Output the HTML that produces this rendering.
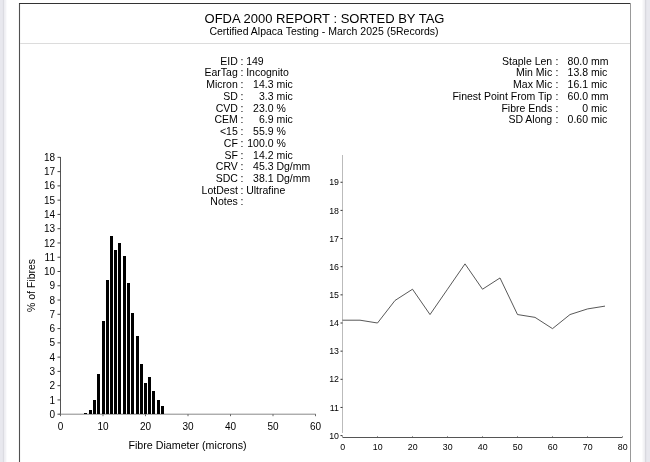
<!DOCTYPE html>
<html><head><meta charset="utf-8"><style>
html,body{margin:0;padding:0;background:#fff;width:650px;height:462px;overflow:hidden}
svg{display:block;filter:blur(0.4px);font-family:"Liberation Sans", sans-serif}
</style></head><body>
<svg width="650" height="462" viewBox="0 0 650 462" style='font-family:"Liberation Sans", sans-serif'>
<rect x="0" y="0" width="1" height="462" fill="#e8e8ee"/>
<rect x="1" y="0" width="1" height="462" fill="#e8e8ee"/>
<rect x="2" y="0" width="1" height="462" fill="#e6e6ec"/>
<rect x="3" y="0" width="1" height="462" fill="#dcdce2"/>
<rect x="4" y="0" width="1" height="462" fill="#eeeef2"/>
<rect x="5" y="0" width="1" height="462" fill="#f2f2f5"/>
<rect x="6" y="0" width="1" height="462" fill="#fafafc"/>
<rect x="642" y="0" width="1" height="462" fill="#fafafb"/>
<rect x="643" y="0" width="1" height="462" fill="#f4f4f6"/>
<rect x="644" y="0" width="1" height="462" fill="#efeff2"/>
<rect x="645" y="0" width="1" height="462" fill="#d9d9df"/>
<rect x="646" y="0" width="1" height="462" fill="#e4e4ea"/>
<rect x="647" y="0" width="1" height="462" fill="#e8e8ee"/>
<rect x="648" y="0" width="1" height="462" fill="#e8e8ee"/>
<rect x="649" y="0" width="1" height="462" fill="#e8e8ee"/>
<line x1="19.5" y1="3" x2="19.5" y2="462" stroke="#505050" stroke-width="1.1"/>
<line x1="19" y1="3.5" x2="631" y2="3.5" stroke="#333" stroke-width="1.2"/>
<line x1="630.5" y1="3" x2="630.5" y2="462" stroke="#999" stroke-width="1"/>
<line x1="20" y1="43.5" x2="630" y2="43.5" stroke="#dcdcdc" stroke-width="1"/>
<text x="324.5" y="22.7" font-size="13" text-anchor="middle" fill="#000" >OFDA 2000 REPORT : SORTED BY TAG</text>
<text x="324" y="35.2" font-size="10.5" text-anchor="middle" fill="#000" >Certified Alpaca Testing - March 2025 (5Records)</text>
<text x="237.8" y="64.6" font-size="10.5" text-anchor="end" fill="#000" >EID</text>
<text x="242" y="64.6" font-size="10.5" text-anchor="middle" fill="#000" >:</text>
<text x="246.2" y="64.6" font-size="10.5" text-anchor="start" fill="#000" >149</text>
<text x="237.8" y="76.33999999999999" font-size="10.5" text-anchor="end" fill="#000" >EarTag</text>
<text x="242" y="76.33999999999999" font-size="10.5" text-anchor="middle" fill="#000" >:</text>
<text x="246.2" y="76.33999999999999" font-size="10.5" text-anchor="start" fill="#000" >Incognito</text>
<text x="237.8" y="88.08" font-size="10.5" text-anchor="end" fill="#000" >Micron</text>
<text x="242" y="88.08" font-size="10.5" text-anchor="middle" fill="#000" >:</text>
<text x="273.5" y="88.08" font-size="10.5" text-anchor="end" fill="#000" >14.3</text>
<text x="276.4" y="88.08" font-size="10.5" text-anchor="start" fill="#000" >mic</text>
<text x="237.8" y="99.82" font-size="10.5" text-anchor="end" fill="#000" >SD</text>
<text x="242" y="99.82" font-size="10.5" text-anchor="middle" fill="#000" >:</text>
<text x="273.5" y="99.82" font-size="10.5" text-anchor="end" fill="#000" >3.3</text>
<text x="276.4" y="99.82" font-size="10.5" text-anchor="start" fill="#000" >mic</text>
<text x="237.8" y="111.56" font-size="10.5" text-anchor="end" fill="#000" >CVD</text>
<text x="242" y="111.56" font-size="10.5" text-anchor="middle" fill="#000" >:</text>
<text x="273.5" y="111.56" font-size="10.5" text-anchor="end" fill="#000" >23.0</text>
<text x="276.4" y="111.56" font-size="10.5" text-anchor="start" fill="#000" >%</text>
<text x="237.8" y="123.3" font-size="10.5" text-anchor="end" fill="#000" >CEM</text>
<text x="242" y="123.3" font-size="10.5" text-anchor="middle" fill="#000" >:</text>
<text x="273.5" y="123.3" font-size="10.5" text-anchor="end" fill="#000" >6.9</text>
<text x="276.4" y="123.3" font-size="10.5" text-anchor="start" fill="#000" >mic</text>
<text x="237.8" y="135.04" font-size="10.5" text-anchor="end" fill="#000" >&lt;15</text>
<text x="242" y="135.04" font-size="10.5" text-anchor="middle" fill="#000" >:</text>
<text x="273.5" y="135.04" font-size="10.5" text-anchor="end" fill="#000" >55.9</text>
<text x="276.4" y="135.04" font-size="10.5" text-anchor="start" fill="#000" >%</text>
<text x="237.8" y="146.78" font-size="10.5" text-anchor="end" fill="#000" >CF</text>
<text x="242" y="146.78" font-size="10.5" text-anchor="middle" fill="#000" >:</text>
<text x="273.5" y="146.78" font-size="10.5" text-anchor="end" fill="#000" >100.0</text>
<text x="276.4" y="146.78" font-size="10.5" text-anchor="start" fill="#000" >%</text>
<text x="237.8" y="158.51999999999998" font-size="10.5" text-anchor="end" fill="#000" >SF</text>
<text x="242" y="158.51999999999998" font-size="10.5" text-anchor="middle" fill="#000" >:</text>
<text x="273.5" y="158.51999999999998" font-size="10.5" text-anchor="end" fill="#000" >14.2</text>
<text x="276.4" y="158.51999999999998" font-size="10.5" text-anchor="start" fill="#000" >mic</text>
<text x="237.8" y="170.26" font-size="10.5" text-anchor="end" fill="#000" >CRV</text>
<text x="242" y="170.26" font-size="10.5" text-anchor="middle" fill="#000" >:</text>
<text x="273.5" y="170.26" font-size="10.5" text-anchor="end" fill="#000" >45.3</text>
<text x="276.4" y="170.26" font-size="10.5" text-anchor="start" fill="#000" >Dg/mm</text>
<text x="237.8" y="182.0" font-size="10.5" text-anchor="end" fill="#000" >SDC</text>
<text x="242" y="182.0" font-size="10.5" text-anchor="middle" fill="#000" >:</text>
<text x="273.5" y="182.0" font-size="10.5" text-anchor="end" fill="#000" >38.1</text>
<text x="276.4" y="182.0" font-size="10.5" text-anchor="start" fill="#000" >Dg/mm</text>
<text x="237.8" y="193.74" font-size="10.5" text-anchor="end" fill="#000" >LotDest</text>
<text x="242" y="193.74" font-size="10.5" text-anchor="middle" fill="#000" >:</text>
<text x="246.2" y="193.74" font-size="10.5" text-anchor="start" fill="#000" >Ultrafine</text>
<text x="237.8" y="205.48" font-size="10.5" text-anchor="end" fill="#000" >Notes</text>
<text x="242" y="205.48" font-size="10.5" text-anchor="middle" fill="#000" >:</text>
<text x="246.2" y="205.48" font-size="10.5" text-anchor="start" fill="#000" ></text>
<text x="552.2" y="64.6" font-size="10.5" text-anchor="end" fill="#000" >Staple Len</text>
<text x="557" y="64.6" font-size="10.5" text-anchor="middle" fill="#000" >:</text>
<text x="588" y="64.6" font-size="10.5" text-anchor="end" fill="#000" >80.0</text>
<text x="590.9" y="64.6" font-size="10.5" text-anchor="start" fill="#000" >mm</text>
<text x="552.2" y="76.33999999999999" font-size="10.5" text-anchor="end" fill="#000" >Min Mic</text>
<text x="557" y="76.33999999999999" font-size="10.5" text-anchor="middle" fill="#000" >:</text>
<text x="588" y="76.33999999999999" font-size="10.5" text-anchor="end" fill="#000" >13.8</text>
<text x="590.9" y="76.33999999999999" font-size="10.5" text-anchor="start" fill="#000" >mic</text>
<text x="552.2" y="88.08" font-size="10.5" text-anchor="end" fill="#000" >Max Mic</text>
<text x="557" y="88.08" font-size="10.5" text-anchor="middle" fill="#000" >:</text>
<text x="588" y="88.08" font-size="10.5" text-anchor="end" fill="#000" >16.1</text>
<text x="590.9" y="88.08" font-size="10.5" text-anchor="start" fill="#000" >mic</text>
<text x="552.2" y="99.82" font-size="10.5" text-anchor="end" fill="#000" >Finest Point From Tip</text>
<text x="557" y="99.82" font-size="10.5" text-anchor="middle" fill="#000" >:</text>
<text x="588" y="99.82" font-size="10.5" text-anchor="end" fill="#000" >60.0</text>
<text x="590.9" y="99.82" font-size="10.5" text-anchor="start" fill="#000" >mm</text>
<text x="552.2" y="111.56" font-size="10.5" text-anchor="end" fill="#000" >Fibre Ends</text>
<text x="557" y="111.56" font-size="10.5" text-anchor="middle" fill="#000" >:</text>
<text x="588" y="111.56" font-size="10.5" text-anchor="end" fill="#000" >0</text>
<text x="590.9" y="111.56" font-size="10.5" text-anchor="start" fill="#000" >mic</text>
<text x="552.2" y="123.3" font-size="10.5" text-anchor="end" fill="#000" >SD Along</text>
<text x="557" y="123.3" font-size="10.5" text-anchor="middle" fill="#000" >:</text>
<text x="588" y="123.3" font-size="10.5" text-anchor="end" fill="#000" >0.60</text>
<text x="590.9" y="123.3" font-size="10.5" text-anchor="start" fill="#000" >mic</text>
<line x1="60.5" y1="157" x2="60.5" y2="415.2" stroke="#555" stroke-width="1"/>
<line x1="59.5" y1="414.2" x2="315.8" y2="414.2" stroke="#888" stroke-width="1"/>
<line x1="57.5" y1="414.2" x2="60.5" y2="414.2" stroke="#444" stroke-width="1"/>
<text x="55" y="417.8" font-size="10" text-anchor="end" fill="#000" >0</text>
<line x1="57.5" y1="399.93" x2="60.5" y2="399.93" stroke="#444" stroke-width="1"/>
<text x="55" y="403.53000000000003" font-size="10" text-anchor="end" fill="#000" >1</text>
<line x1="57.5" y1="385.65999999999997" x2="60.5" y2="385.65999999999997" stroke="#444" stroke-width="1"/>
<text x="55" y="389.26" font-size="10" text-anchor="end" fill="#000" >2</text>
<line x1="57.5" y1="371.39" x2="60.5" y2="371.39" stroke="#444" stroke-width="1"/>
<text x="55" y="374.99" font-size="10" text-anchor="end" fill="#000" >3</text>
<line x1="57.5" y1="357.12" x2="60.5" y2="357.12" stroke="#444" stroke-width="1"/>
<text x="55" y="360.72" font-size="10" text-anchor="end" fill="#000" >4</text>
<line x1="57.5" y1="342.85" x2="60.5" y2="342.85" stroke="#444" stroke-width="1"/>
<text x="55" y="346.45000000000005" font-size="10" text-anchor="end" fill="#000" >5</text>
<line x1="57.5" y1="328.58" x2="60.5" y2="328.58" stroke="#444" stroke-width="1"/>
<text x="55" y="332.18" font-size="10" text-anchor="end" fill="#000" >6</text>
<line x1="57.5" y1="314.31" x2="60.5" y2="314.31" stroke="#444" stroke-width="1"/>
<text x="55" y="317.91" font-size="10" text-anchor="end" fill="#000" >7</text>
<line x1="57.5" y1="300.03999999999996" x2="60.5" y2="300.03999999999996" stroke="#444" stroke-width="1"/>
<text x="55" y="303.64" font-size="10" text-anchor="end" fill="#000" >8</text>
<line x1="57.5" y1="285.77" x2="60.5" y2="285.77" stroke="#444" stroke-width="1"/>
<text x="55" y="289.37" font-size="10" text-anchor="end" fill="#000" >9</text>
<line x1="57.5" y1="271.5" x2="60.5" y2="271.5" stroke="#444" stroke-width="1"/>
<text x="55" y="275.1" font-size="10" text-anchor="end" fill="#000" >10</text>
<line x1="57.5" y1="257.23" x2="60.5" y2="257.23" stroke="#444" stroke-width="1"/>
<text x="55" y="260.83000000000004" font-size="10" text-anchor="end" fill="#000" >11</text>
<line x1="57.5" y1="242.95999999999998" x2="60.5" y2="242.95999999999998" stroke="#444" stroke-width="1"/>
<text x="55" y="246.55999999999997" font-size="10" text-anchor="end" fill="#000" >12</text>
<line x1="57.5" y1="228.69" x2="60.5" y2="228.69" stroke="#444" stroke-width="1"/>
<text x="55" y="232.29" font-size="10" text-anchor="end" fill="#000" >13</text>
<line x1="57.5" y1="214.42" x2="60.5" y2="214.42" stroke="#444" stroke-width="1"/>
<text x="55" y="218.01999999999998" font-size="10" text-anchor="end" fill="#000" >14</text>
<line x1="57.5" y1="200.15" x2="60.5" y2="200.15" stroke="#444" stroke-width="1"/>
<text x="55" y="203.75" font-size="10" text-anchor="end" fill="#000" >15</text>
<line x1="57.5" y1="185.88" x2="60.5" y2="185.88" stroke="#444" stroke-width="1"/>
<text x="55" y="189.48" font-size="10" text-anchor="end" fill="#000" >16</text>
<line x1="57.5" y1="171.60999999999999" x2="60.5" y2="171.60999999999999" stroke="#444" stroke-width="1"/>
<text x="55" y="175.20999999999998" font-size="10" text-anchor="end" fill="#000" >17</text>
<line x1="57.5" y1="157.33999999999997" x2="60.5" y2="157.33999999999997" stroke="#444" stroke-width="1"/>
<text x="55" y="160.93999999999997" font-size="10" text-anchor="end" fill="#000" >18</text>
<line x1="60.5" y1="414.2" x2="60.5" y2="416.2" stroke="#666" stroke-width="1"/>
<text x="60.5" y="429.6" font-size="10" text-anchor="middle" fill="#000" >0</text>
<line x1="103.0" y1="414.2" x2="103.0" y2="416.2" stroke="#666" stroke-width="1"/>
<text x="103.0" y="429.6" font-size="10" text-anchor="middle" fill="#000" >10</text>
<line x1="145.5" y1="414.2" x2="145.5" y2="416.2" stroke="#666" stroke-width="1"/>
<text x="145.5" y="429.6" font-size="10" text-anchor="middle" fill="#000" >20</text>
<line x1="188.0" y1="414.2" x2="188.0" y2="416.2" stroke="#666" stroke-width="1"/>
<text x="188.0" y="429.6" font-size="10" text-anchor="middle" fill="#000" >30</text>
<line x1="230.5" y1="414.2" x2="230.5" y2="416.2" stroke="#666" stroke-width="1"/>
<text x="230.5" y="429.6" font-size="10" text-anchor="middle" fill="#000" >40</text>
<line x1="273.0" y1="414.2" x2="273.0" y2="416.2" stroke="#666" stroke-width="1"/>
<text x="273.0" y="429.6" font-size="10" text-anchor="middle" fill="#000" >50</text>
<line x1="315.5" y1="414.2" x2="315.5" y2="416.2" stroke="#666" stroke-width="1"/>
<text x="315.5" y="429.6" font-size="10" text-anchor="middle" fill="#000" >60</text>
<text x="187.5" y="448.8" font-size="10.7" text-anchor="middle" fill="#000" >Fibre Diameter (microns)</text>
<text x="0" y="0" font-size="10.5" text-anchor="middle" transform="translate(35.2,285.5) rotate(-90)">% of Fibres</text>
<rect x="84" y="413" width="3" height="1" fill="#000"/>
<rect x="89" y="410" width="3" height="4" fill="#000"/>
<rect x="93" y="400" width="3" height="14" fill="#000"/>
<rect x="97" y="374" width="3" height="40" fill="#000"/>
<rect x="102" y="321" width="3" height="93" fill="#000"/>
<rect x="106" y="280" width="3" height="134" fill="#000"/>
<rect x="110" y="236" width="3" height="178" fill="#000"/>
<rect x="114" y="250" width="3" height="164" fill="#000"/>
<rect x="118" y="243" width="3" height="171" fill="#000"/>
<rect x="123" y="256" width="3" height="158" fill="#000"/>
<rect x="127" y="283" width="3" height="131" fill="#000"/>
<rect x="131" y="313" width="3" height="101" fill="#000"/>
<rect x="136" y="336" width="3" height="78" fill="#000"/>
<rect x="140" y="364" width="3" height="50" fill="#000"/>
<rect x="144" y="383" width="3" height="31" fill="#000"/>
<rect x="148" y="377" width="3" height="37" fill="#000"/>
<rect x="152" y="391" width="3" height="23" fill="#000"/>
<rect x="157" y="400" width="3" height="14" fill="#000"/>
<rect x="161" y="406" width="3" height="8" fill="#000"/>
<line x1="342.5" y1="155" x2="342.5" y2="433" stroke="#bbb" stroke-width="1"/>
<line x1="342.5" y1="437.5" x2="622.5" y2="437.5" stroke="#555" stroke-width="1"/>
<line x1="340.5" y1="435.6" x2="342.5" y2="435.6" stroke="#333" stroke-width="1"/>
<text x="339" y="438.70000000000005" font-size="8.8" text-anchor="end" fill="#000" >10</text>
<line x1="340.5" y1="407.45000000000005" x2="342.5" y2="407.45000000000005" stroke="#333" stroke-width="1"/>
<text x="339" y="410.55000000000007" font-size="8.8" text-anchor="end" fill="#000" >11</text>
<line x1="340.5" y1="379.3" x2="342.5" y2="379.3" stroke="#333" stroke-width="1"/>
<text x="339" y="382.40000000000003" font-size="8.8" text-anchor="end" fill="#000" >12</text>
<line x1="340.5" y1="351.15000000000003" x2="342.5" y2="351.15000000000003" stroke="#333" stroke-width="1"/>
<text x="339" y="354.25000000000006" font-size="8.8" text-anchor="end" fill="#000" >13</text>
<line x1="340.5" y1="323.0" x2="342.5" y2="323.0" stroke="#333" stroke-width="1"/>
<text x="339" y="326.1" font-size="8.8" text-anchor="end" fill="#000" >14</text>
<line x1="340.5" y1="294.85" x2="342.5" y2="294.85" stroke="#333" stroke-width="1"/>
<text x="339" y="297.95000000000005" font-size="8.8" text-anchor="end" fill="#000" >15</text>
<line x1="340.5" y1="266.70000000000005" x2="342.5" y2="266.70000000000005" stroke="#333" stroke-width="1"/>
<text x="339" y="269.80000000000007" font-size="8.8" text-anchor="end" fill="#000" >16</text>
<line x1="340.5" y1="238.55000000000004" x2="342.5" y2="238.55000000000004" stroke="#333" stroke-width="1"/>
<text x="339" y="241.65000000000003" font-size="8.8" text-anchor="end" fill="#000" >17</text>
<line x1="340.5" y1="210.40000000000003" x2="342.5" y2="210.40000000000003" stroke="#333" stroke-width="1"/>
<text x="339" y="213.50000000000003" font-size="8.8" text-anchor="end" fill="#000" >18</text>
<line x1="340.5" y1="182.25000000000003" x2="342.5" y2="182.25000000000003" stroke="#333" stroke-width="1"/>
<text x="339" y="185.35000000000002" font-size="8.8" text-anchor="end" fill="#000" >19</text>
<text x="342.7" y="450.4" font-size="8.8" text-anchor="middle" fill="#000" >0</text>
<line x1="342.5" y1="436" x2="342.5" y2="437" stroke="#999" stroke-width="1"/>
<text x="377.7" y="450.4" font-size="8.8" text-anchor="middle" fill="#000" >10</text>
<line x1="377.5" y1="436" x2="377.5" y2="437" stroke="#999" stroke-width="1"/>
<text x="412.7" y="450.4" font-size="8.8" text-anchor="middle" fill="#000" >20</text>
<line x1="412.5" y1="436" x2="412.5" y2="437" stroke="#999" stroke-width="1"/>
<text x="447.7" y="450.4" font-size="8.8" text-anchor="middle" fill="#000" >30</text>
<line x1="447.5" y1="436" x2="447.5" y2="437" stroke="#999" stroke-width="1"/>
<text x="482.7" y="450.4" font-size="8.8" text-anchor="middle" fill="#000" >40</text>
<line x1="482.5" y1="436" x2="482.5" y2="437" stroke="#999" stroke-width="1"/>
<text x="517.7" y="450.4" font-size="8.8" text-anchor="middle" fill="#000" >50</text>
<line x1="517.5" y1="436" x2="517.5" y2="437" stroke="#999" stroke-width="1"/>
<text x="552.7" y="450.4" font-size="8.8" text-anchor="middle" fill="#000" >60</text>
<line x1="552.5" y1="436" x2="552.5" y2="437" stroke="#999" stroke-width="1"/>
<text x="587.7" y="450.4" font-size="8.8" text-anchor="middle" fill="#000" >70</text>
<line x1="587.5" y1="436" x2="587.5" y2="437" stroke="#999" stroke-width="1"/>
<text x="622.7" y="450.4" font-size="8.8" text-anchor="middle" fill="#000" >80</text>
<line x1="622.5" y1="436" x2="622.5" y2="437" stroke="#999" stroke-width="1"/>
<polyline points="342.50,320.19 360.00,320.19 377.50,323.00 395.00,300.48 412.50,289.22 430.00,314.56 447.50,289.22 465.00,263.88 482.50,289.22 500.00,277.96 517.50,314.56 535.00,317.37 552.50,328.63 570.00,314.56 587.50,308.93 605.00,306.11" fill="none" stroke="#3a3a3a" stroke-width="0.85"/>
</svg>
</body></html>
